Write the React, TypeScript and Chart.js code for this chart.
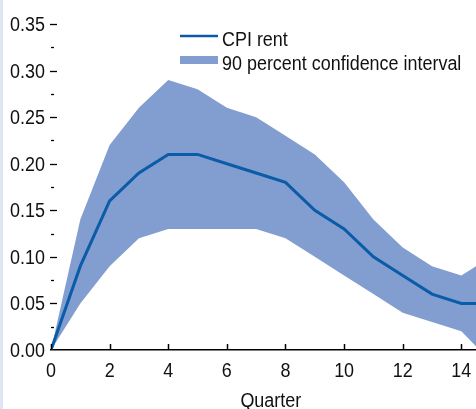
import React, { useEffect, useRef } from "react";
import { Chart, registerables } from "chart.js";

Chart.register(...registerables);

const quarters = [0, 1, 2, 3, 4, 5, 6, 7, 8, 9, 10, 11, 12, 13, 14, 15];
const cpiRent = [0, 0.09, 0.16, 0.19, 0.21, 0.21, 0.2, 0.19, 0.18, 0.15, 0.13, 0.1, 0.08, 0.06, 0.05, 0.05];
const upperBand = [0, 0.14, 0.22, 0.26, 0.29, 0.28, 0.26, 0.25, 0.23, 0.21, 0.18, 0.14, 0.11, 0.09, 0.08, 0.1];
const lowerBand = [0, 0.05, 0.09, 0.12, 0.13, 0.13, 0.13, 0.13, 0.12, 0.1, 0.08, 0.06, 0.04, 0.03, 0.02, -0.012];
const xTicks = [0, 2, 4, 6, 8, 10, 12, 14];
const legendLabels = ["CPI rent", "90 percent confidence interval"];
const xTitle = "Quarter";

const LINE = "#0a5ca8";
const BAND = "#829dcf";
const TEXT = "#111111";
const FONT = '"Liberation Sans", Arial, sans-serif';
const FS = 19.5;
const SQUEEZE = 0.92;

function drawText(ctx: any, s: string, x: number, y: number, align: "left" | "right" | "center") {
  ctx.save();
  ctx.font = `${FS}px ${FONT}`;
  ctx.fillStyle = TEXT;
  ctx.textBaseline = "alphabetic";
  ctx.textAlign = "left";
  const w = ctx.measureText(s).width * SQUEEZE;
  let x0 = x;
  if (align === "right") x0 = x - w;
  else if (align === "center") x0 = x - w / 2;
  ctx.translate(x0, y);
  ctx.scale(SQUEEZE, 1);
  ctx.fillText(s, 0, 0);
  ctx.restore();
}

const decor = {
  id: "decor",
  beforeDraw(chart: any) {
    const { ctx, width, height } = chart;
    ctx.save();
    ctx.fillStyle = "#ffffff";
    ctx.fillRect(0, 0, width, height);
    ctx.fillStyle = "#dfe5f4";
    ctx.fillRect(0, 0, 3, height);
    ctx.restore();
  },
  afterDraw(chart: any) {
    const { ctx, chartArea } = chart;
    const xs = chart.scales.x;
    const ys = chart.scales.y;
    ctx.save();
    ctx.strokeStyle = "#000";
    ctx.lineWidth = 1.5;
    const base = ys.getPixelForValue(0);
    xTicks.forEach((t) => {
      const px = Math.round(xs.getPixelForValue(t)) + 0.5;
      ctx.beginPath();
      ctx.moveTo(px, base);
      ctx.lineTo(px, base - 6);
      ctx.stroke();
      drawText(ctx, String(t), xs.getPixelForValue(t), base + 27, "center");
    });
    ctx.lineWidth = 1.3;
    ys.ticks.forEach((t: any) => {
      const v = t.value;
      const major = Math.abs(Math.round(v / 0.05) * 0.05 - v) < 1e-6;
      const py = Math.round(ys.getPixelForValue(v)) + 0.5;
      if (major) drawText(ctx, v.toFixed(2), chartArea.left - 6, ys.getPixelForValue(v) + 7, "right");
      if (v === 0) return;
      ctx.beginPath();
      if (major) {
        ctx.moveTo(chartArea.left - 1, py);
        ctx.lineTo(chartArea.left + 6, py);
      } else {
        ctx.moveTo(chartArea.left, py);
        ctx.lineTo(chartArea.left + 3, py);
      }
      ctx.stroke();
    });
    // axis title, centred on the full 0-15 quarter range
    drawText(ctx, xTitle, xs.getPixelForValue(7.5), chart.height - 2, "center");
    // legend
    const lx = chartArea.left + 129;
    const ly1 = chartArea.top + 12;
    const ly2 = chartArea.top + 36;
    ctx.strokeStyle = LINE;
    ctx.lineWidth = 2.5;
    ctx.beginPath();
    ctx.moveTo(lx, ly1);
    ctx.lineTo(lx + 38, ly1);
    ctx.stroke();
    ctx.fillStyle = BAND;
    ctx.fillRect(lx, ly2 - 4, 38, 8);
    drawText(ctx, legendLabels[0], lx + 42, ly1 + 10, "left");
    drawText(ctx, legendLabels[1], lx + 42, ly2 + 10, "left");
    ctx.restore();
  },
};

export default function App() {
  const ref = useRef<HTMLCanvasElement>(null);
  useEffect(() => {
    if (!ref.current) return;
    const chart = new Chart(ref.current, {
      type: "line",
      data: {
        datasets: [
          {
            label: legendLabels[0],
            data: quarters.map((q, i) => ({ x: q, y: cpiRent[i] })),
            borderColor: LINE,
            borderWidth: 3,
            pointRadius: 0,
            fill: false,
            tension: 0,
          },
          {
            label: "upper",
            data: quarters.map((q, i) => ({ x: q, y: upperBand[i] })),
            borderWidth: 0,
            borderColor: "rgba(0,0,0,0)",
            backgroundColor: BAND,
            pointRadius: 0,
            fill: "+1",
            tension: 0,
          },
          {
            label: legendLabels[1],
            data: quarters.map((q, i) => ({ x: q, y: lowerBand[i] })),
            borderWidth: 0,
            borderColor: "rgba(0,0,0,0)",
            backgroundColor: BAND,
            pointRadius: 0,
            fill: false,
            tension: 0,
          },
        ],
      },
      plugins: [decor],
      options: {
        animation: false,
        responsive: false,
        events: [],
        layout: { padding: { top: 24, right: 0, bottom: 0, left: 0 } },
        plugins: {
          legend: { display: false },
          tooltip: { enabled: false },
        },
        scales: {
          x: {
            type: "linear",
            min: 0,
            max: 14.5,
            afterBuildTicks: (scale: any) => {
              scale.ticks = xTicks.map((v) => ({ value: v }));
            },
            afterFit: (scale: any) => {
              scale.height = 59;
              scale.paddingLeft = 0;
              scale.paddingRight = 0;
            },
            grid: { display: false, drawTicks: false },
            border: { display: true, color: "#000", width: 1.5 },
            ticks: { display: false },
            title: { display: false },
          },
          y: {
            min: 0,
            max: 0.35,
            afterFit: (scale: any) => {
              scale.width = 51;
              scale.paddingTop = 0;
              scale.paddingBottom = 0;
            },
            grid: { display: false, drawTicks: false },
            border: { display: false },
            ticks: { display: false, stepSize: 0.025, autoSkip: false },
          },
        },
      },
    });
    return () => chart.destroy();
  }, []);
  return (
    <div style={{ position: "fixed", left: 0, top: 0, width: 476, height: 409 }}>
      <canvas ref={ref} width={476} height={409} style={{ display: "block" }} />
    </div>
  );
}
